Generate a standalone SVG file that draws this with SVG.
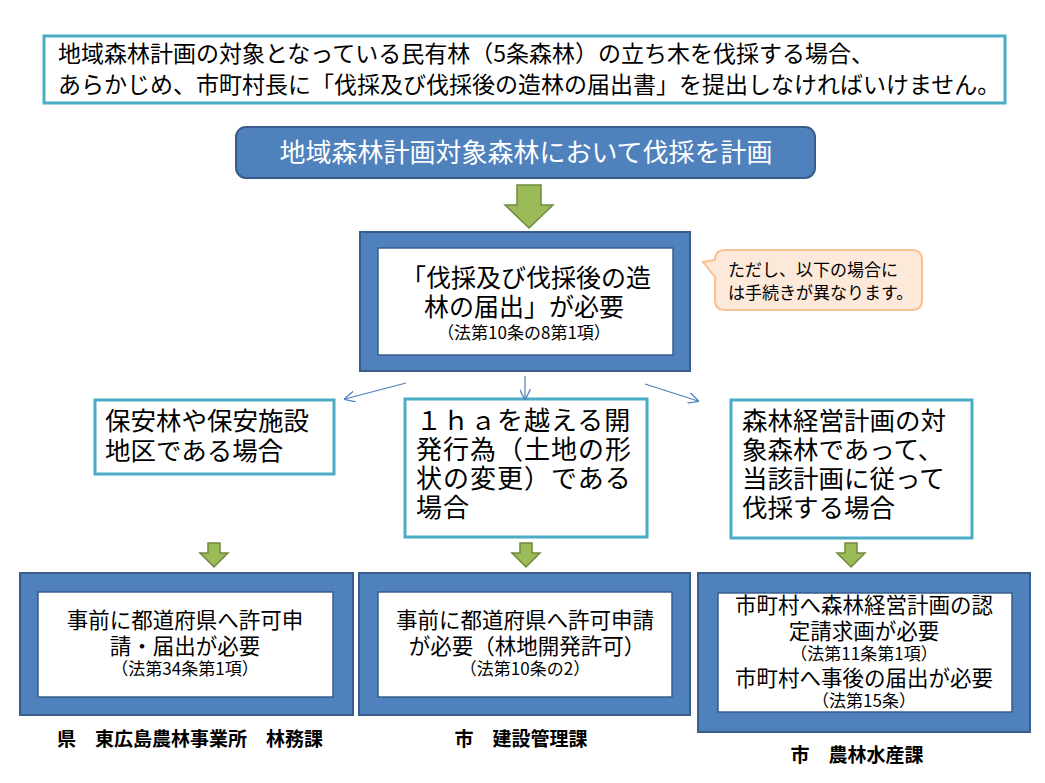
<svg xmlns="http://www.w3.org/2000/svg" width="1045" height="783" viewBox="0 0 1045 783">
<style>
text{font-family:"Noto Sans CJK JP","Noto Sans CJK SC",sans-serif;fill:#000}
.teal{fill:#fff;stroke:#4bacc6;stroke-width:3}
.frame{fill:#4f81bd;stroke:#385d8a;stroke-width:2}
.inner{fill:#fff;stroke:#385d8a;stroke-width:1.5}
.garrow{fill:#9bbb59;stroke:#71893f;stroke-width:1.5;stroke-linejoin:miter}
.thin{stroke:#4f81bd;stroke-width:1.2;fill:none}
.c{text-anchor:middle}
.cond{font-size:25.5px}
.mid{font-size:21.5px}
.sm{font-size:17px}
.lab{font-size:19px;font-weight:bold}
</style>
<defs>
<marker id="open" viewBox="0 0 10 10" refX="9" refY="5" markerWidth="11" markerHeight="11" markerUnits="userSpaceOnUse" orient="auto">
<path d="M0,0 L10,5 L0,10" fill="none" stroke="#4f81bd" stroke-width="1.2"/>
</marker>
</defs>
<rect width="1045" height="783" fill="#fff"/>

<g id="intro">
<rect class="teal" x="44" y="36" width="961" height="67"/>
<text x="58" y="62" font-size="23">地域森林計画の対象となっている民有林（5条森林）の立ち木を伐採する場合、</text>
<text x="58" y="93" font-size="23">あらかじめ、市町村長に「伐採及び伐採後の造林の届出書」を提出しなければいけません。</text>
</g>

<g id="plan">
<rect x="236" y="127" width="579" height="51" rx="10" fill="#4f81bd" stroke="#385d8a" stroke-width="2"/>
<text class="c" x="526" y="162" font-size="26" style="fill:#fff">地域森林計画対象森林において伐採を計画</text>
</g>

<g id="notice">
<rect class="frame" x="360" y="232" width="330" height="139"/>
<rect class="inner" x="378" y="248" width="295" height="107"/>
<text class="c" x="526" y="287" font-size="25">「伐採及び伐採後の造</text>
<text class="c" x="524" y="316" font-size="25">林の届出」が必要</text>
<text class="c sm" x="524" y="339">（法第10条の8第1項）</text>
</g>

<g id="callout">
<path d="M725,250 H912 Q922,250 922,260 V300 Q922,310 912,310 H725 Q715,310 715,300 V277 L703,262 L715,260 Q715,250 725,250 Z" fill="#fde9d9" stroke="#fac090" stroke-width="2"/>
<text x="728" y="276" font-size="17">ただし、以下の場合に</text>
<text x="728" y="299" font-size="17">は手続きが異なります。</text>
</g>

<g id="caseA">
<rect class="teal" x="95" y="400" width="239" height="74"/>
<text class="cond" x="105" y="430">保安林や保安施設</text>
<text class="cond" x="105" y="460">地区である場合</text>
</g>

<g id="caseB">
<rect class="teal" x="405" y="399" width="242" height="138"/>
<text x="416" y="430" font-size="26" letter-spacing="1">１ｈａを越える開</text>
<text x="416" y="459" font-size="26" letter-spacing="1">発行為（土地の形</text>
<text x="416" y="488" font-size="26" letter-spacing="1">状の変更）である</text>
<text x="416" y="517" font-size="26" letter-spacing="1">場合</text>
</g>

<g id="caseC">
<rect class="teal" x="731" y="400" width="241" height="138"/>
<text class="cond" x="742" y="430">森林経営計画の対</text>
<text class="cond" x="742" y="459">象森林であって、</text>
<text class="cond" x="742" y="488">当該計画に従って</text>
<text class="cond" x="742" y="517">伐採する場合</text>
</g>

<g id="resultA">
<rect class="frame" x="20" y="573" width="333" height="142"/>
<rect class="inner" x="38" y="592" width="295" height="105"/>
<text class="c mid" x="185" y="628">事前に都道府県へ許可申</text>
<text class="c mid" x="185" y="654">請・届出が必要</text>
<text class="c sm" x="185" y="675">（法第34条第1項）</text>
</g>

<g id="resultB">
<rect class="frame" x="359" y="573" width="331" height="142"/>
<rect class="inner" x="378" y="592" width="294" height="105"/>
<text class="c mid" x="525" y="628">事前に都道府県へ許可申請</text>
<text class="c mid" x="527" y="654">が必要（林地開発許可）</text>
<text class="c sm" x="525" y="675">（法第10条の2）</text>
</g>

<g id="resultC">
<rect class="frame" x="698" y="573" width="332" height="159"/>
<rect class="inner" x="718" y="593" width="294" height="119"/>
<text class="c mid" x="864" y="613">市町村へ森林経営計画の認</text>
<text class="c mid" x="864" y="639">定請求画が必要</text>
<text class="c sm" x="864" y="660">（法第11条第1項）</text>
<text class="c mid" x="864" y="686">市町村へ事後の届出が必要</text>
<text class="c sm" x="864" y="707">（法第15条）</text>
</g>

<g id="labels">
<text class="c lab" x="190" y="746">県　東広島農林事業所　林務課</text>
<text class="c lab" x="521" y="746">市　建設管理課</text>
<text class="c lab" x="857" y="762">市　農林水産課</text>
</g>

<g id="connectors">
<polygon class="garrow" points="517,185 541,185 541,205 553,205 529,228 505,205 517,205"/>
<line class="thin" x1="406" y1="383" x2="345" y2="399" marker-end="url(#open)"/>
<line class="thin" x1="525" y1="376" x2="525" y2="399" marker-end="url(#open)"/>
<line class="thin" x1="645" y1="384" x2="698" y2="401" marker-end="url(#open)"/>
<polygon class="garrow" points="208,543 220,543 220,553 228,553 214,567 200,553 208,553"/>
<polygon class="garrow" points="520,543 532,543 532,553 540,553 526,567 512,553 520,553"/>
<polygon class="garrow" points="845,543 857,543 857,553 865,553 851,567 837,553 845,553"/>
</g>
</svg>
